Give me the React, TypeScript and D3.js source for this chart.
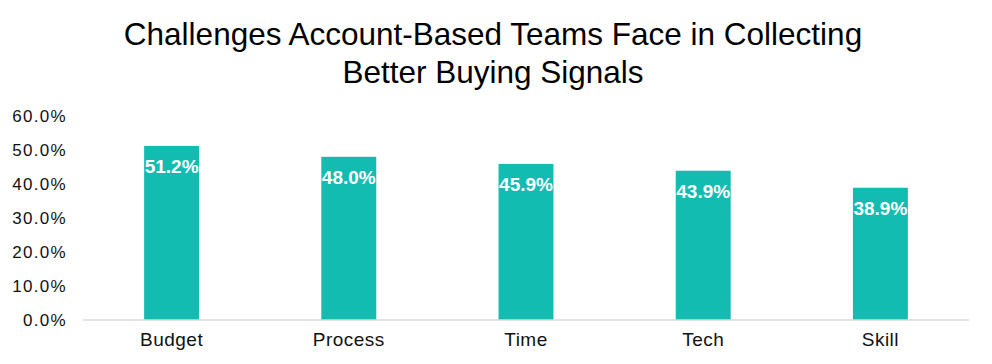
import React from "react";
import * as d3 from "d3";

const categories = ["Budget", "Process", "Time", "Tech", "Skill"];
const values = [51.2, 48.0, 45.9, 43.9, 38.9];
const yTicks = [0, 10, 20, 30, 40, 50, 60];
const titleLines = [
  "Challenges Account-Based Teams Face in Collecting",
  "Better Buying Signals",
];

const W = 992;
const H = 364;
const margin = { top: 116, right: 23, bottom: 44, left: 83 };
const font = "'Liberation Sans', Arial, sans-serif";

const App = () => {
  const x = d3
    .scaleBand<string>()
    .domain(categories)
    .range([margin.left, W - margin.right])
    .paddingInner(0.69)
    .paddingOuter(0.345);

  const y = d3
    .scaleLinear()
    .domain([0, 60])
    .range([H - margin.bottom, margin.top]);

  const fmt = (v: number) => `${v.toFixed(1)}%`;

  return (
    <svg
      width={W}
      height={H}
      style={{ position: "absolute", left: 0, top: 0, background: "#fff" }}
      fontFamily={font}
    >
      {/* title */}
      {titleLines.map((t, i) => (
        <text
          key={t}
          x={493}
          y={45 + i * 38}
          textAnchor="middle"
          fontSize={31.5}
          fill="#000"
        >
          {t}
        </text>
      ))}

      {/* y ticks */}
      {yTicks.map((t) => (
        <text
          key={t}
          x={67}
          y={y(t)}
          dy="0.36em"
          textAnchor="end"
          fontSize={17}
          letterSpacing={1.3}
          fill="#111"
        >
          {fmt(t)}
        </text>
      ))}

      {/* bars */}
      {categories.map((c, i) => (
        <g key={c}>
          <rect
            x={x(c)}
            y={y(values[i])}
            width={x.bandwidth()}
            height={y(0) - y(values[i])}
            fill="#13bcb1"
          />
          <text
            x={(x(c) ?? 0) + x.bandwidth() / 2}
            y={y(values[i]) + 27}
            textAnchor="middle"
            fontSize={19}
            fontWeight="bold"
            fill="#fff"
          >
            {fmt(values[i])}
          </text>
          <text
            x={(x(c) ?? 0) + x.bandwidth() / 2}
            y={y(0) + 26}
            textAnchor="middle"
            fontSize={19}
            letterSpacing={0.5}
            fill="#111"
          >
            {c}
          </text>
        </g>
      ))}

      {/* x axis line */}
      <line
        x1={margin.left}
        x2={W - margin.right}
        y1={y(0)}
        y2={y(0)}
        stroke="#d9d9d9"
        strokeWidth={1.5}
      />
    </svg>
  );
};

export default App;
